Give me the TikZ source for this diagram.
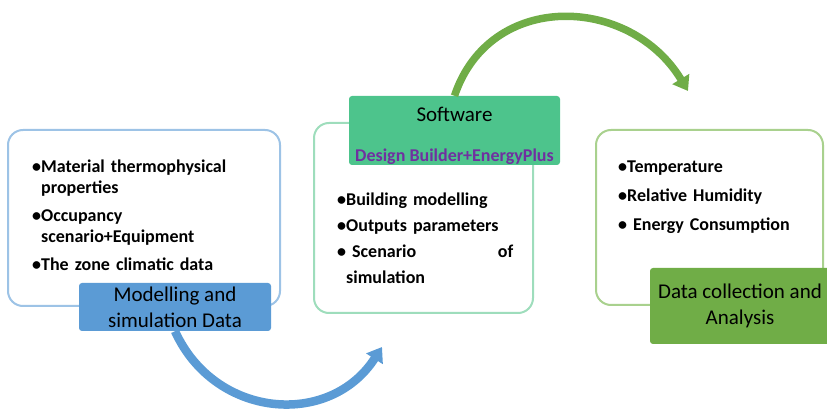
\documentclass[tikz,border=0pt]{standalone}
\usepackage{fontspec}
\setmainfont{Carlito}
\usetikzlibrary{arrows.meta}
\definecolor{azul}{HTML}{5B9BD5}
\definecolor{azulclaro}{HTML}{9DC3E6}
\definecolor{menta}{HTML}{4DC48C}
\definecolor{mentaclara}{HTML}{9EDDBC}
\definecolor{verde}{HTML}{70AD47}
\definecolor{verdeclaro}{HTML}{A9D18E}
\definecolor{morado}{HTML}{7030A0}
\tikzstyle{caja}=[rectangle,rounded corners=15pt,line width=2pt,fill=white,inner sep=0pt]
\tikzstyle{etiq}=[rectangle,rounded corners=3pt,inner sep=0pt,align=center,font=\fontsize{21}{26}\selectfont]
\tikzstyle{txt}=[anchor=base west,inner sep=0pt,align=left,font=\bfseries\fontsize{18}{21}\selectfont]
\tikzstyle{flecha}=[line width=8.5pt,-{Triangle[length=14pt,width=19pt]}]

\begin{document}
\begin{tikzpicture}[x=1pt,y=-1pt]
\useasboundingbox (0,0) rectangle (827,411);
% cajas
\node[caja,draw=azulclaro,minimum width=272,minimum height=176] (c1) at (144,218) {};
\node[etiq,fill=azul,minimum width=192,minimum height=48] (mod) at (175,307) {Modelling and\\simulation Data};
\node[caja,draw=mentaclara,minimum width=219,minimum height=190] (c2) at (423.5,218) {};
\node[etiq,fill=menta,minimum width=211,minimum height=69] (soft) at (454.5,130.5) {};
\node[etiq] (softt) at (454.5,135.5)
  {Software\\[14pt]{\bfseries\fontsize{18}{18}\selectfont\color{morado}Design Builder+EnergyPlus}};
\node[caja,draw=verdeclaro,minimum width=227,minimum height=175] (c3) at (709.5,217.5) {};
\node[etiq,fill=verde,minimum width=180,minimum height=76] (dat) at (740,306) {Data collection and\\Analysis};
% textos
\node[txt,text width=245] (t1) at (32,173) {•Material thermophysical\\\hphantom{•}properties\\[7pt]•Occupancy\\\hphantom{•}scenario+Equipment\\[7pt]•The zone climatic data};
\node[txt,text width=176,font=\bfseries\fontsize{18}{26}\selectfont] (t2) at (337,206) {•Building modelling\\•Outputs parameters\\• Scenario\hfill of\\\hphantom{•}simulation};
\node[txt,text width=200,font=\bfseries\fontsize{18}{29}\selectfont] (t3) at (618,173) {•Temperature\\•Relative Humidity\\• Energy Consumption};
% flechas
\coordinate (fb) at (382,347);
\coordinate (fv) at (688,91);
\draw[flecha,azul] (mod.south) .. controls (215,419) and (330,428) .. (fb);
\draw[flecha,verde,line width=7.5pt] (soft.north) .. controls (490,-10) and (630,-5) .. (fv);
\end{tikzpicture}
\end{document}
